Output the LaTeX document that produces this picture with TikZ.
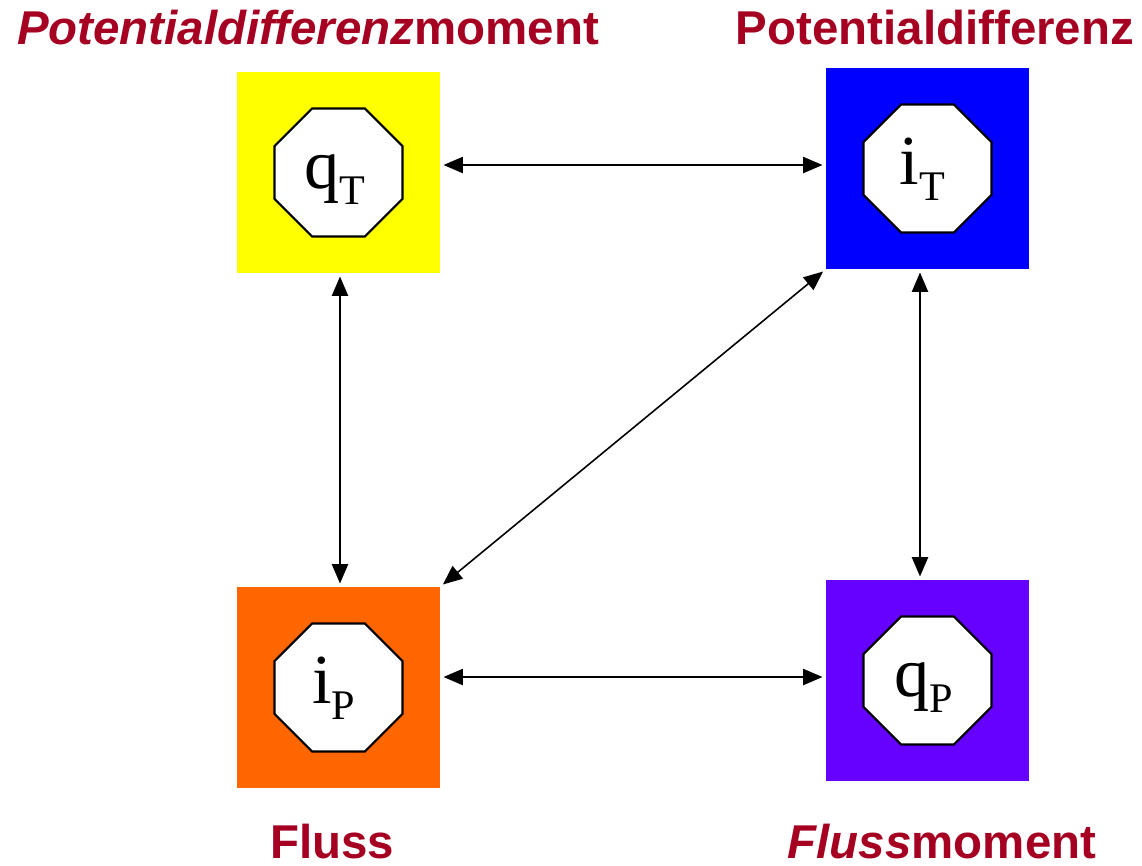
\documentclass[tikz,border=0pt]{standalone}
\usepackage{fontspec}
\usepackage{tikz}
\usetikzlibrary{shapes.geometric,arrows.meta}
\newfontfamily\headfont{Liberation Sans}
\newfontfamily\symfont{Liberation Serif}
\definecolor{headred}{HTML}{A50021}
\definecolor{boxyellow}{HTML}{FFFF00}
\definecolor{boxblue}{HTML}{0000FF}
\definecolor{boxorange}{HTML}{FF6600}
\definecolor{boxviolet}{HTML}{6600FF}
\newcommand{\lowidx}[1]{\raisebox{-0.16cm}{\fontsize{12}{14}\selectfont #1}}

\begin{document}
\begin{tikzpicture}[
		colbox/.style={rectangle,minimum width=2.03cm,minimum height=2.01cm,inner sep=0pt},
		octa/.style={regular polygon,regular polygon sides=8,draw,fill=white,line width=0.6pt,minimum size=1.385cm,inner sep=0pt},
		sym/.style={anchor=base,inner sep=0pt,font=\symfont\fontsize{20}{24}\selectfont},
		head/.style={anchor=base,inner sep=0pt,text=headred,font=\headfont\bfseries\fontsize{13.5}{16}\selectfont},
		link/.style={{Triangle[length=5.5pt,width=4.6pt]}-{Triangle[length=5.5pt,width=4.6pt]},line width=0.45pt,shorten <=0.8pt,shorten >=0.8pt}
		]
		\useasboundingbox (0,0) rectangle (11.42,-8.65);

		\node[colbox, fill=boxyellow](bQT) at (3.385,-1.725){};
		\node[colbox, fill=boxblue](bIT) at (9.275,-1.685){};
		\node[colbox, fill=boxorange](bIP) at (3.385,-6.875){};
		\node[colbox, fill=boxviolet](bQP) at (9.275,-6.805){};

		\node[octa](oQT) at (bQT){};
		\node[octa](oIT) at (bIT){};
		\node[octa](oIP) at (bIP){};
		\node[octa](oQP) at (bQP){};

		\node[sym](tQT) at ([xshift=-0.04cm,yshift=-0.16cm]oQT.center){q\lowidx{T}};
		\node[sym](tIT) at ([xshift=-0.05cm,yshift=-0.16cm]oIT.center){i\lowidx{T}};
		\node[sym](tIP) at ([xshift=-0.05cm,yshift=-0.16cm]oIP.center){i\lowidx{P}};
		\node[sym](tQP) at ([xshift=-0.04cm,yshift=-0.16cm]oQP.center){q\lowidx{P}};

		% titles
		\node[head](hQT) at (3.08,-0.44){\itshape Potentialdifferenz\upshape moment};
		\node[head](hIT) at (9.35,-0.44){Potentialdifferenz};
		\node[head](hIP) at (3.32,-8.58){Fluss};
		\node[head](hQP) at (9.42,-8.58){\itshape Fluss\upshape moment};

		\draw[link] ([yshift=0.075cm]bQT.east) -- ([yshift=0.035cm]bIT.west);
		\draw[link] ([yshift=0.105cm]bIP.east) -- ([yshift=0.035cm]bQP.west);
		\draw[link] ([xshift=0.015cm]bQT.south) -- ([xshift=0.015cm]bIP.north);
		\draw[link] ([xshift=-0.075cm]bIT.south) -- ([xshift=-0.075cm]bQP.north);
		\draw[link] (bIP.north east) -- (bIT.south west);
	\end{tikzpicture}
\end{document}
